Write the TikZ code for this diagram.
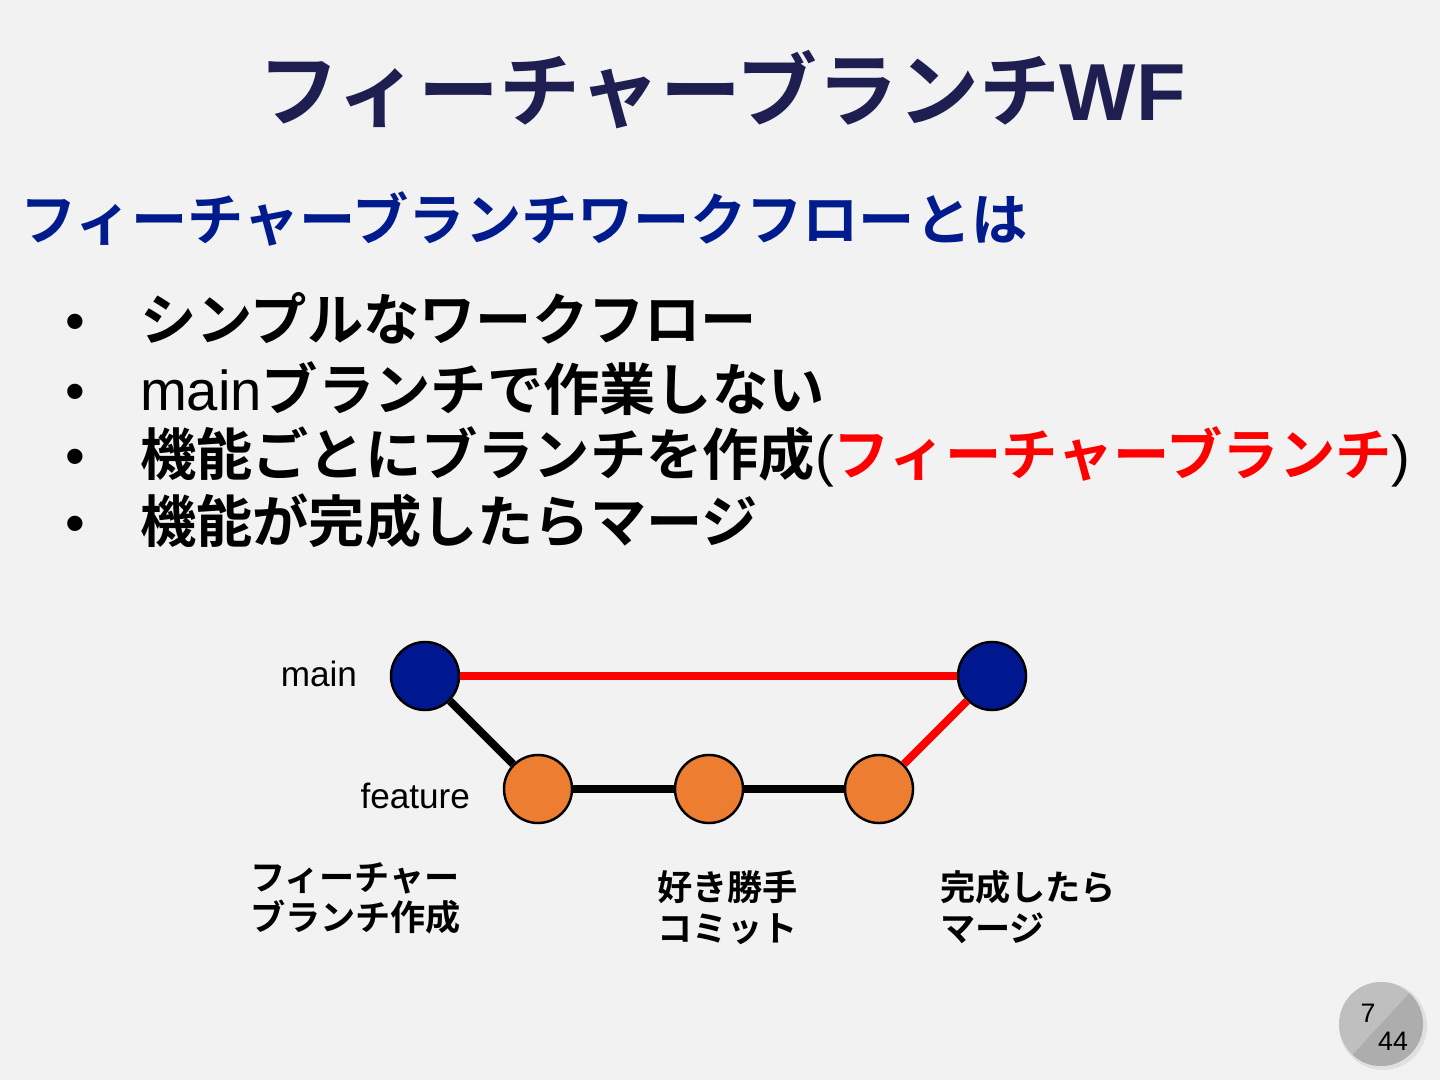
\documentclass[tikz,border=0pt]{standalone}
\usepackage{fontspec}
\setmainfont{Liberation Sans}
\newfontfamily\jp{Noto Sans CJK JP Bold}
\definecolor{bg}{RGB}{242,242,242}
\definecolor{titlec}{RGB}{30,30,80}
\definecolor{navyc}{RGB}{0,28,140}
\definecolor{mainc}{RGB}{0,24,143}
\definecolor{orangec}{RGB}{237,125,49}
\definecolor{redc}{RGB}{255,0,0}
\begin{document}
\begin{tikzpicture}[x=0.01cm,y=-0.01cm,
  txt/.style={inner sep=0pt,outer sep=0pt},
  mainnode/.style={circle,draw=black,line width=0.7pt,fill=mainc,minimum size=0.68cm,inner sep=0pt},
  featnode/.style={circle,draw=black,line width=0.7pt,fill=orangec,minimum size=0.68cm,inner sep=0pt},
  blackedge/.style={line width=2.3pt,draw=black},
  rededge/.style={line width=2.3pt,draw=redc},
  bigt/.style={txt,font=\fontsize{16pt}{18pt}\selectfont},
  smallt/.style={txt,font=\fontsize{10pt}{12pt}\selectfont},
]
\fill[bg] (0,0) rectangle (1440,1080);
\useasboundingbox (0,0) rectangle (1440,1080);

% title
\node[txt,anchor=base,text=titlec,font=\fontsize{23pt}{26pt}\selectfont] (title) at (722,121) {{\jp フィーチャーブランチ}\textbf{WF}};

% subtitle
\node[bigt,anchor=base west,text=navyc] (sub) at (20,241) {\jp フィーチャーブランチワークフローとは};

% bullets
\foreach \y/\n in {341/b1,411/b2,476/b3,543/b4}{
  \node[bigt,anchor=base] (\n dot) at (75,\y) {\textbullet};
}
\node[bigt,anchor=base west] (b1) at (140,341) {\jp シンプルなワークフロー};
\node[bigt,anchor=base west] (b2) at (140,411) {main{\jp ブランチで作業しない}};
\node[bigt,anchor=base west] (b3) at (140,476) {{\jp 機能ごとにブランチを作成}(\textcolor{redc}{\jp フィーチャーブランチ})};
\node[bigt,anchor=base west] (b4) at (140,543) {\jp 機能が完成したらマージ};

% graph
\node[mainnode] (m1) at (425,676) {};
\node[mainnode] (m2) at (992,676) {};
\node[featnode] (f1) at (538,789) {};
\node[featnode] (f2) at (709,789) {};
\node[featnode] (f3) at (879,789) {};
\draw[rededge] (m1) -- (m2);
\draw[blackedge] (m1) -- (f1);
\draw[blackedge] (f1) -- (f2);
\draw[blackedge] (f2) -- (f3);
\draw[rededge] (f3) -- (m2);

\node[smallt,anchor=base east] (lmain) at (357,686) {main};
\node[smallt,anchor=base east] (lfeat) at (470,808) {feature};

\node[smallt,anchor=base west] (c1a) at (250,890) {\jp フィーチャー};
\node[smallt,anchor=base west] (c1b) at (250,930) {\jp ブランチ作成};
\node[smallt,anchor=base west] (c2a) at (657,900) {\jp 好き勝手};
\node[smallt,anchor=base west] (c2b) at (657,941) {\jp コミット};
\node[smallt,anchor=base west] (c3a) at (940,900) {\jp 完成したら};
\node[smallt,anchor=base west] (c3b) at (940,941) {\jp マージ};

% page number badge
\fill[black!12] (1383,1026) circle (44);
\begin{scope}
\clip (1381,1024) circle (42);
\fill[black!25] (1381,1024) circle (42);
\fill[black!32] (1320,1090) -- (1440,960) -- (1440,1090) -- cycle;
\end{scope}
\node[txt,anchor=base,font=\fontsize{7.6pt}{9pt}\selectfont] (pg) at (1368,1022) {7};
\node[txt,anchor=base,font=\fontsize{7.6pt}{9pt}\selectfont] (pgt) at (1393,1050) {44};
\end{tikzpicture}
\end{document}
